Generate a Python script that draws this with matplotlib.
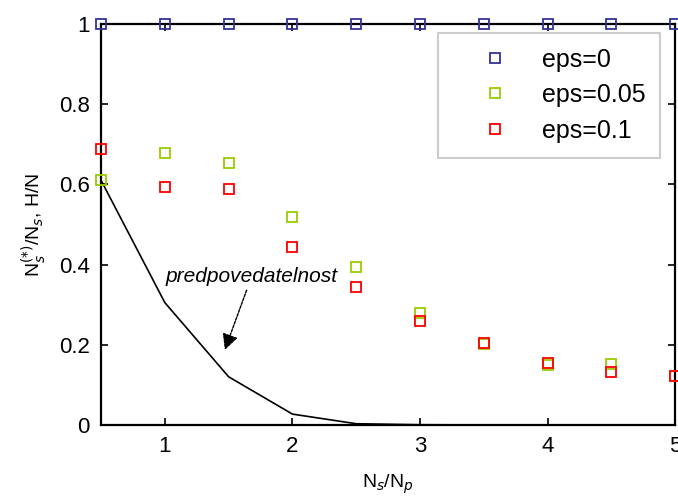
import numpy as np
import matplotlib
matplotlib.use("Agg")
import matplotlib.pyplot as plt

plt.rcParams['font.family'] = ['Liberation Sans', 'DejaVu Sans']

# ratio Ns/Np
ratio = [0.5, 1.0, 1.5, 2.0, 2.5, 3.0, 3.5, 4.0, 4.5, 5.0]

eps0 = [1, 1, 1, 1, 1, 1, 1, 1, 1, 1]
eps005 = [0.61, 0.678, 0.653, 0.519, 0.394, 0.279, 0.202, 0.150, 0.152, 0.122]
eps01 = [0.688, 0.594, 0.589, 0.444, 0.344, 0.259, 0.204, 0.155, 0.132, 0.122]

# predictability H/N
predict = [0.61, 0.305, 0.12, 0.027, 0.003, 0.0005, 0.0, 0.0, 0.0, 0.0]

fig = plt.figure(figsize=(6.78, 4.97), dpi=100)
ax = fig.add_axes([0.149, 0.145, 0.847, 0.807])

ax.plot(ratio, predict, color='black', lw=1.2, clip_on=False)
ms = 7
ax.plot(ratio, eps0, 's', mfc='none', mec='#333399', mew=1.3, ms=ms, clip_on=False, label='eps=0', zorder=5)
ax.plot(ratio, eps005, 's', mfc='none', mec='#99cc00', mew=1.3, ms=ms, clip_on=False, label='eps=0.05', zorder=5)
ax.plot(ratio, eps01, 's', mfc='none', mec='#ff0000', mew=1.3, ms=ms, clip_on=False, label='eps=0.1', zorder=5)

ax.annotate('predpovedatelnost', xy=(1.47, 0.187), xytext=(1.68, 0.37),
            ha='center', va='center', fontsize=15, style='italic',
            arrowprops=dict(arrowstyle='-|>', color='black', lw=1, ls=(0, (2, 1)),
                            mutation_scale=24, shrinkA=1, shrinkB=0))

ax.set_xlim(0.5, 5)
ax.set_ylim(0, 1)
ax.set_xticks([1, 2, 3, 4, 5])
ax.set_xticklabels(['1', '2', '3', '4', '5'])
ax.set_yticks([0, 0.2, 0.4, 0.6, 0.8, 1])
ax.set_yticklabels(['0', '0.2', '0.4', '0.6', '0.8', '1'])
ax.tick_params(direction='in', top=True, right=True, labelsize=16, length=5, width=1.2, pad=8)
for s in ax.spines.values():
    s.set_linewidth(1.6)

ax.set_xlabel(r'N$_s$/N$_p$', fontsize=14, labelpad=11)
ax.set_ylabel(r'N$_s^{(*)}$/N$_s$, H/N', fontsize=14, labelpad=8)

leg = ax.legend(loc='upper right', bbox_to_anchor=(0.974, 0.978), borderaxespad=0, fontsize=18,
                frameon=True, fancybox=False, edgecolor='#c0c0c0', handletextpad=0.2,
                borderpad=0.6, labelspacing=0.46, handlelength=3.36)
leg.get_frame().set_linewidth(1.5)

fig.savefig('out.png', dpi=100)
